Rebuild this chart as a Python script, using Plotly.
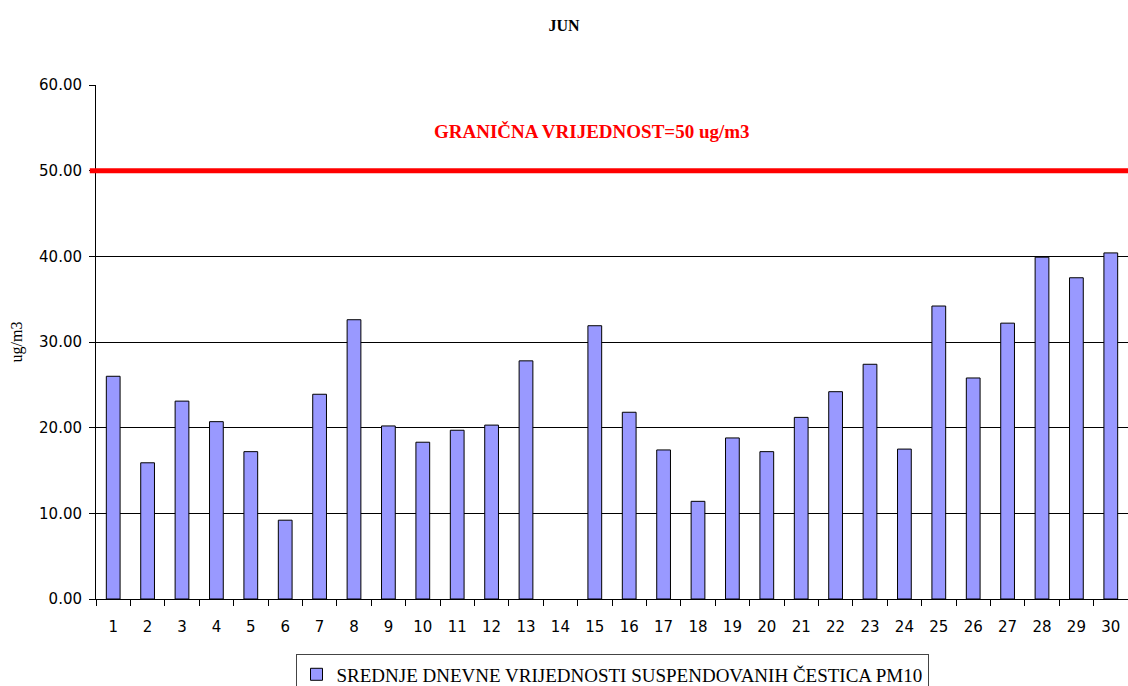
import plotly.graph_objects as go

# daily mean PM10 values for June (day 14 missing)
days = [str(d) for d in range(1, 31)]
pm10 = [26.0, 15.9, 23.1, 20.7, 17.2, 9.2, 23.9, 32.6, 20.2, 18.3,
        19.7, 20.3, 27.8, None, 31.9, 21.8, 17.4, 11.4, 18.8, 17.2,
        21.2, 24.2, 27.4, 17.5, 34.2, 25.8, 32.2, 39.9, 37.5, 40.4]
limit_value = 50
y_ticks = [0, 10, 20, 30, 40, 50, 60]

serif = "Liberation Serif, Times New Roman, serif"
sans = "DejaVu Sans, Verdana, sans-serif"

fig = go.Figure()
fig.add_trace(go.Bar(
    x=days, y=pm10,
    name="SREDNJE DNEVNE VRIJEDNOSTI SUSPENDOVANIH ČESTICA PM10",
    marker=dict(color="#9999FF", line=dict(color="black", width=1)),
    showlegend=True,
))

# limit line
fig.add_shape(type="line", xref="paper", yref="y",
              x0=-0.006, x1=1, y0=limit_value, y1=limit_value,
              line=dict(color="#FF0000", width=5))
fig.add_annotation(
    text=f"<b>GRANIČNA VRIJEDNOST={limit_value} ug/m3</b>",
    xref="paper", yref="paper", x=0.4806, y=0.909,
    xanchor="center", yanchor="middle", showarrow=False,
    font=dict(family=serif, size=19, color="#FF0000"),
)

fig.update_layout(
    width=1128, height=686,
    title=dict(text="<b>JUN</b>", x=0.5, xanchor="center", y=0.963, yanchor="middle",
               font=dict(family=serif, size=16, color="black")),
    paper_bgcolor="white", plot_bgcolor="white",
    margin=dict(l=96, r=0, t=85, b=87),
    bargap=0.6,
    showlegend=True,
    # legend is cut off by the bottom edge, as in the original
    legend=dict(orientation="h", x=0.5, xanchor="center",
                yref="container", y=0.046, yanchor="top",
                bordercolor="#444444", borderwidth=1, bgcolor="white",
                font=dict(family=serif, size=19, color="black")),
    xaxis=dict(type="category", showline=True, linecolor="black", linewidth=1,
               ticks="outside", tickson="boundaries", ticklen=6, tickcolor="black",
               ticklabelstandoff=14,
               tickfont=dict(family=sans, size=15, color="black"),
               showgrid=False),
    yaxis=dict(range=[0, 60], tickvals=y_ticks, tickformat=".2f",
               showline=True, linecolor="black", linewidth=1,
               ticks="outside", ticklen=6, tickcolor="black",
               ticklabelstandoff=4,
               tickfont=dict(family=sans, size=15, color="black"),
               showgrid=True, gridcolor="black", gridwidth=1, zeroline=False,
               title=dict(text="ug/m3", standoff=12,
                          font=dict(family=serif, size=16, color="black"))),
)

# the figure fills the whole window, so drop the page's default body margin
fig.write_html("out.html", config={"displayModeBar": False},
               post_script="document.body.style.margin='0';")
